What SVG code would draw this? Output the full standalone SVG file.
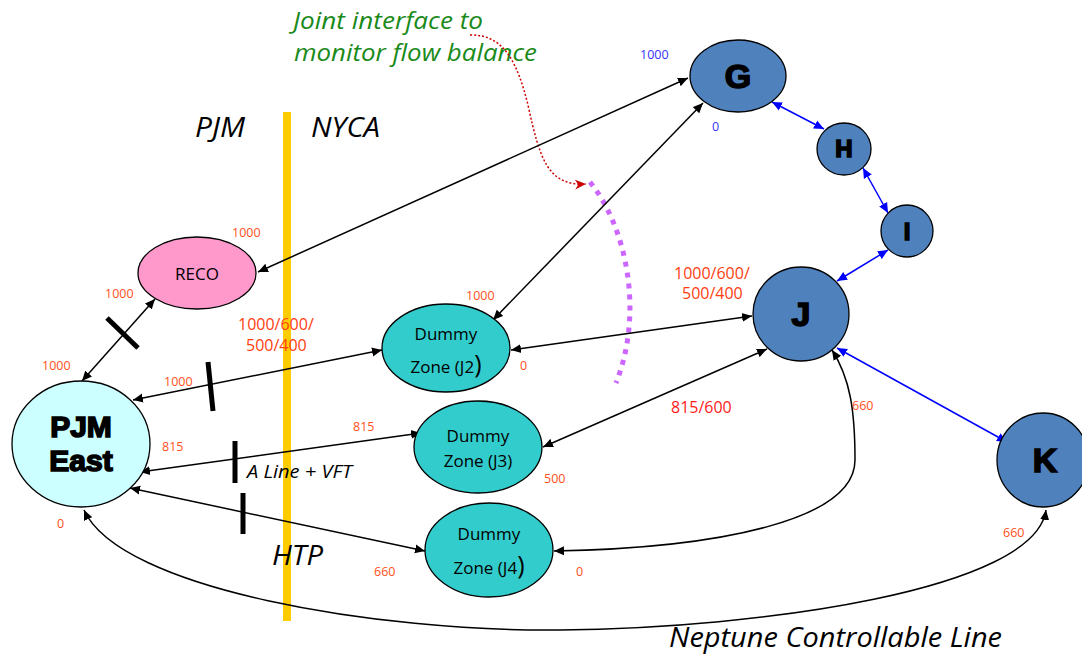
<svg xmlns="http://www.w3.org/2000/svg" width="1082" height="657" viewBox="0 0 1082 657">
<style>
.node{stroke:#000;stroke-width:1.3}
.blue{fill:#4f81bd}
.cyan{fill:#33cccc}
.big{font-family:"Liberation Sans",Arial,sans-serif;font-weight:900;text-anchor:middle;fill:#000;stroke:#000;stroke-width:1.6}
.dz{font-family:"Open Sans","Liberation Sans",sans-serif;font-size:17px;text-anchor:middle;fill:#000}
.lbl{font-family:"Open Sans","Liberation Sans",sans-serif;font-size:12.5px;fill:#ff5020}
.lblb{font-family:"Open Sans","Liberation Sans",sans-serif;font-size:12.5px;fill:#3333ff}
.lbl2{font-family:"Open Sans","Liberation Sans",sans-serif;font-size:16px;fill:#ff4010}
.it{font-family:"Open Sans","Liberation Sans",sans-serif;font-style:italic;fill:#000}
.c{fill:none;stroke:#000;stroke-width:1.5;marker-start:url(#ab);marker-end:url(#ab)}
.cb{fill:none;stroke:#0000ff;stroke-width:1.5;marker-start:url(#au);marker-end:url(#au)}
.tick{stroke:#000;stroke-width:5}
</style>
<defs>
<marker id="ab" viewBox="0 0 10 10" refX="10" refY="5" markerWidth="10" markerHeight="10" markerUnits="userSpaceOnUse" orient="auto-start-reverse"><path d="M0,0.5 L10,5 L0,9.5 z" fill="#000"/></marker>
<marker id="au" viewBox="0 0 10 10" refX="10" refY="5" markerWidth="10" markerHeight="10" markerUnits="userSpaceOnUse" orient="auto-start-reverse"><path d="M0,0.5 L10,5 L0,9.5 z" fill="#0000ff"/></marker>
<marker id="ar" viewBox="0 0 10 10" refX="10" refY="5" markerWidth="11" markerHeight="11" markerUnits="userSpaceOnUse" orient="auto"><path d="M0,0.5 L10,5 L0,9.5 L3,5 z" fill="#cc0000"/></marker>
</defs>

<!-- boundary -->
<rect x="283" y="112" width="8" height="509" fill="#ffcc00"/>
<text class="it" x="195" y="137" font-size="28" textLength="50" lengthAdjust="spacingAndGlyphs">PJM</text>
<text class="it" x="311" y="137" font-size="28" textLength="69" lengthAdjust="spacingAndGlyphs">NYCA</text>
<text class="it" x="272" y="565" font-size="28" textLength="51" lengthAdjust="spacingAndGlyphs">HTP</text>
<text class="it" x="247" y="478" font-size="19" textLength="105" lengthAdjust="spacingAndGlyphs">A Line + VFT</text>
<text class="it" x="669" y="647" font-size="28" textLength="333" lengthAdjust="spacingAndGlyphs">Neptune Controllable Line</text>
<text class="it" x="293" y="29" font-size="24" textLength="190" lengthAdjust="spacingAndGlyphs" style="fill:#1a8a1a">Joint interface to</text>
<text class="it" x="294" y="61" font-size="24" textLength="243" lengthAdjust="spacingAndGlyphs" style="fill:#1a8a1a">monitor flow balance</text>

<!-- interface -->
<path d="M590,182 C625,225 645,310 616,383" fill="none" stroke="#cc66ff" stroke-width="5" stroke-dasharray="5,6"/>
<path d="M470,35 C505,34 518,65 528,105 C540,160 548,186 586,184" fill="none" stroke="#cc0000" stroke-width="1.5" stroke-dasharray="2,2" marker-end="url(#ar)"/>

<g id="connectors">
<line class="c" x1="258" y1="272" x2="688" y2="78"/>
<line class="c" x1="493" y1="320" x2="703" y2="103"/>
<line class="c" x1="511" y1="350" x2="752" y2="316"/>
<line class="c" x1="543" y1="447" x2="767" y2="349"/>
<line class="c" x1="82" y1="381" x2="155" y2="299"/>
<line class="c" x1="133" y1="400" x2="382" y2="350"/>
<line class="c" x1="140" y1="472" x2="421" y2="433"/>
<line class="c" x1="130" y1="488" x2="425" y2="551"/>
<path class="c" d="M554,551 C720,548 855,520 855,460 C855,410 850,378 832,350"/>
<path class="c" d="M84,510 C120,590 380,632 560,630 C760,628 1035,590 1046,510"/>
<line class="cb" x1="772" y1="102" x2="824" y2="129"/>
<line class="cb" x1="863" y1="168" x2="888" y2="213"/>
<line class="cb" x1="888" y1="250" x2="837" y2="281"/>
<line class="cb" x1="837" y1="348" x2="1007" y2="442"/>
<line class="tick" x1="107" y1="318" x2="138" y2="348"/>
<line class="tick" x1="208" y1="362" x2="213" y2="411"/>
<line class="tick" x1="235" y1="441" x2="235" y2="483"/>
<line class="tick" x1="243" y1="493" x2="243" y2="534"/>
</g>

<g id="G"><ellipse class="node blue" cx="738" cy="76" rx="48" ry="36"/><text class="big" x="738" y="88" font-size="34">G</text></g>
<g id="H"><ellipse class="node blue" cx="844" cy="149" rx="27" ry="26"/><text class="big" x="844" y="157" font-size="24">H</text></g>
<g id="I"><ellipse class="node blue" cx="907" cy="231" rx="26" ry="26"/><text class="big" x="907" y="240" font-size="24">I</text></g>
<g id="J"><ellipse class="node blue" cx="801" cy="314" rx="48" ry="47"/><text class="big" x="801" y="326" font-size="34">J</text></g>
<g id="K"><ellipse class="node blue" cx="1043" cy="460" rx="46" ry="47"/><text class="big" x="1045" y="472" font-size="34">K</text></g>
<g id="RECO"><ellipse class="node" fill="#ff99cc" cx="197" cy="273" rx="59" ry="36"/><text class="dz" x="197" y="280" font-size="18">RECO</text></g>
<g id="PJMEast"><ellipse class="node" fill="#ccffff" cx="81" cy="444" rx="69" ry="63"/><text class="big" x="81" y="437" font-size="30">PJM</text><text class="big" x="81" y="471" font-size="30">East</text></g>
<g id="J2"><ellipse class="node cyan" cx="446" cy="348" rx="64" ry="44"/><text class="dz" x="446" y="340">Dummy</text><text class="dz" x="446" y="373">Zone (J2<tspan font-size="25">)</tspan></text></g>
<g id="J3"><ellipse class="node cyan" cx="478" cy="447" rx="64" ry="46"/><text class="dz" x="478" y="442">Dummy</text><text class="dz" x="478" y="467">Zone (J3)</text></g>
<g id="J4"><ellipse class="node cyan" cx="489" cy="550" rx="64" ry="47"/><text class="dz" x="489" y="540">Dummy</text><text class="dz" x="489" y="574">Zone (J4<tspan font-size="25">)</tspan></text></g>

<g id="labels">
<text class="lbl" x="232" y="237">1000</text>
<text class="lbl" x="105" y="298">1000</text>
<text class="lbl" x="42" y="370">1000</text>
<text class="lbl" x="164" y="386">1000</text>
<text class="lbl2" x="238" y="330">1000/600/</text>
<text class="lbl2" x="246" y="351">500/400</text>
<text class="lbl" x="162" y="451">815</text>
<text class="lbl" x="353" y="431">815</text>
<text class="lbl" x="466" y="300">1000</text>
<text class="lbl" x="520" y="370">0</text>
<text class="lbl" x="544" y="483">500</text>
<text class="lbl" x="374" y="576">660</text>
<text class="lbl" x="576" y="576">0</text>
<text class="lbl" x="57" y="528">0</text>
<text class="lbl2" x="674" y="279">1000/600/</text>
<text class="lbl2" x="682" y="299">500/400</text>
<text class="lbl2" x="671" y="413" style="fill:#ff1a1a">815/600</text>
<text class="lbl" x="852" y="410">660</text>
<text class="lbl" x="1003" y="537">660</text>
<text class="lblb" x="640" y="59">1000</text>
<text class="lblb" x="712" y="131">0</text>
</g>
</svg>
